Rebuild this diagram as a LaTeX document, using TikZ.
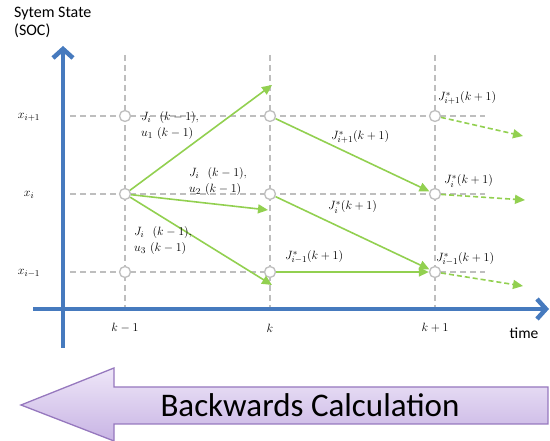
\documentclass[tikz,border=0pt]{standalone}
\usepackage{fontspec}
\setsansfont{Carlito}
\usetikzlibrary{arrows.meta}
\definecolor{axblue}{RGB}{70,122,190}
\definecolor{grn}{RGB}{146,208,80}
\definecolor{gridgray}{RGB}{190,190,190}
\definecolor{purpedge}{RGB}{150,120,190}
\definecolor{purplight}{RGB}{238,230,248}
\definecolor{purpdark}{RGB}{200,180,228}
\begin{document}
\begin{tikzpicture}[x=1pt,y=-1pt,
  axis/.style={draw=axblue,line width=4.5pt},
  gridline/.style={draw=gridgray,line width=1.3pt,dash pattern=on 6pt off 4pt},
  state/.style={circle,draw=gridgray,fill=white,line width=1.3pt,minimum size=11pt,inner sep=0pt},
  garrow/.style={draw=grn,line width=1.6pt,-{Triangle[length=10pt,width=9pt]}},
  gdash/.style={draw=grn,line width=1.6pt,dash pattern=on 5pt off 3pt,-{Triangle[length=10pt,width=9pt]}},
  lab/.style={font=\fontsize{12.5}{16}\selectfont,inner sep=0pt},
  txt/.style={font=\sffamily\fontsize{16}{18}\selectfont,inner sep=0pt}]
\useasboundingbox (0,0) rectangle (550,441);
% grid
\foreach \x in {125,270,435} \draw[gridline] (\x,55) -- (\x,309);
\foreach \y in {116,194,272} \draw[gridline] (70,\y) -- (485,\y);
% axes
\coordinate (vb) at (63,348);
\coordinate (vt) at (63,46);
\coordinate (hl) at (33,309);
\coordinate (hr) at (549,309);
\draw[axis,-{Straight Barb[length=9pt,width=20pt,line width=4.5pt]}] (vb) -- (vt);
\draw[axis,-{Straight Barb[length=9pt,width=20pt,line width=4.5pt]}] (hl) -- (hr);
% state nodes
\node[state] (a1) at (125,116) {};
\node[state] (b1) at (270,116) {};
\node[state] (c1) at (435,116) {};
\node[state] (a2) at (125,194) {};
\node[state] (b2) at (270,194) {};
\node[state] (c2) at (435,194) {};
\node[state] (a3) at (125,272) {};
\node[state] (b3) at (270,272) {};
\node[state] (c3) at (435,272) {};
% arrow endpoints
\coordinate (t1) at (272,85);
\coordinate (t2) at (268,210);
\coordinate (t3) at (272,285);
\coordinate (d1) at (523,136);
\coordinate (d2) at (525,200);
\coordinate (d3) at (523,286);
\draw[garrow] (a2) -- (t1);
\draw[garrow] (a2) -- (t2);
\draw[garrow] (a2) -- (t3);
\draw[garrow] (b1) -- (c2);
\draw[garrow] (b2) -- (c3);
\draw[garrow] (b3) -- (c3);
\draw[gdash] (c1) -- (d1);
\draw[gdash] (c2) -- (d2);
\draw[gdash] (c3) -- (d3);
% axis labels
\node[lab] (xi1) at (29,117) {$x_{i+1}$};
\node[lab] (xi) at (29,195) {$x_{i}$};
\node[lab] (xim) at (29,273) {$x_{i-1}$};
\node[lab] (k1) at (125,328) {$k-1$};
\node[lab] (k) at (270,328) {$k$};
\node[lab] (kp) at (435,328) {$k+1$};
\node[txt,font=\sffamily\fontsize{15.5}{18}\selectfont] (time) at (524,333) {time};
\node[txt,anchor=west,align=left] (title) at (14,22) {Sytem State\\(SOC)};
% edge labels
\node[lab,anchor=west,align=left] (l1) at (141,126) {$J_i\ \ (k-1),$\\$u_1\ (k-1)$};
\node[lab,anchor=west,align=left] (l2) at (189,182) {$J_i\ \ (k-1),$\\$u_2\ (k-1)$};
\node[lab,anchor=west,align=left] (l3) at (134,241) {$J_i\ \ (k-1),$\\$u_3\ (k-1)$};
\node[lab,anchor=west] (m1) at (331,137) {$J^*_{i+1}(k+1)$};
\node[lab,anchor=west] (m2) at (328,207) {$J^*_{i}(k+1)$};
\node[lab,anchor=west] (m3) at (285,257) {$J^*_{i-1}(k+1)$};
\node[lab,anchor=west] (r1) at (438,98) {$J^*_{i+1}(k+1)$};
\node[lab,anchor=west] (r2) at (444,181) {$J^*_{i}(k+1)$};
\node[lab,anchor=west] (r3) at (436,259) {$J^*_{i-1}(k+1)$};
% big arrow
\coordinate (p0) at (21,405);
\coordinate (p1) at (114,368);
\coordinate (p2) at (114,387);
\coordinate (p3) at (548,387);
\coordinate (p4) at (548,424);
\coordinate (p5) at (114,424);
\coordinate (p6) at (114,441);
\draw[draw=purpedge,line width=1.3pt,top color=purplight,bottom color=purpdark,line join=miter]
  (p0) -- (p1) -- (p2) -- (p3) -- (p4) -- (p5) -- (p6) -- cycle;
\node[txt,font=\sffamily\fontsize{33}{36}\selectfont] (bc) at (310,405) {Backwards Calculation};
\end{tikzpicture}
\end{document}
